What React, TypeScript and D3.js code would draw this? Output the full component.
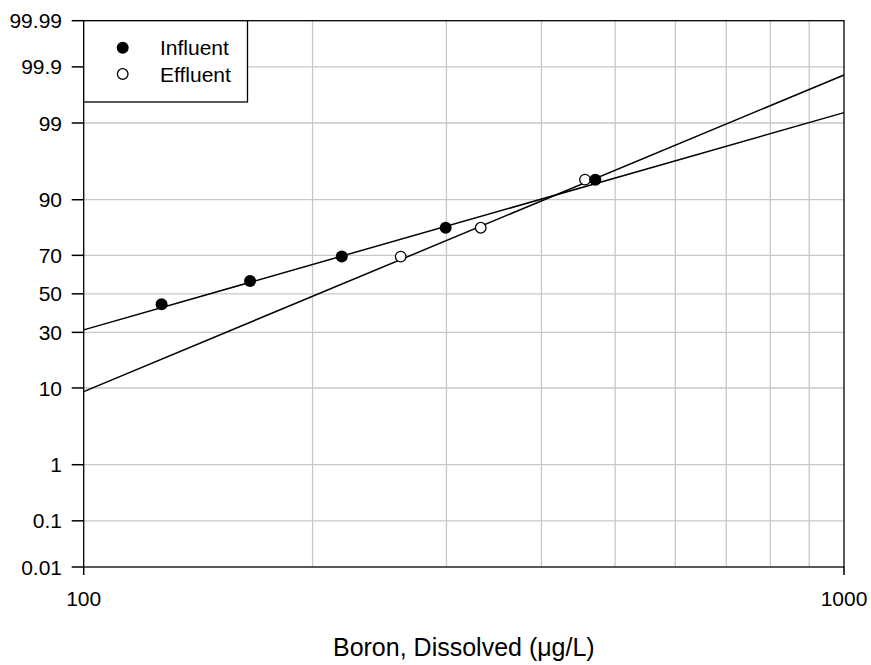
import React from "react";
import * as d3 from "d3";

// ---- data ----
const influentConc = [126.6, 165.5, 218.5, 299.3, 470.9];
const influentPct = [44.4, 57.0, 69.4, 81.6, 94.0];
const effluentConc = [261.2, 332.8, 456.4];
const effluentPct = [69.4, 81.6, 94.0];
const fitConc = [100, 1000];
const influentFitPct = [31.2, 99.32];
const effluentFitPct = [9.16, 99.856];
const yTicks = [0.01, 0.1, 1, 10, 30, 50, 70, 90, 99, 99.9, 99.99];
const yTickLabels = ["0.01", "0.1", "1", "10", "30", "50", "70", "90", "99", "99.9", "99.99"];
const xTicks = [100, 1000];
const xTickLabels = ["100", "1000"];
const xGrid = [200, 300, 400, 500, 600, 700, 800, 900];
const seriesNames = ["Influent", "Effluent"];
const xTitle = "Boron, Dissolved (\u03bcg/L)";

// inverse normal CDF (Acklam)
function probit(p: number): number {
  const a = [-3.969683028665376e1, 2.209460984245205e2, -2.759285104469687e2, 1.38357751867269e2, -3.066479806614716e1, 2.506628277459239];
  const b = [-5.447609879822406e1, 1.615858368580409e2, -1.556989798598866e2, 6.680131188771972e1, -1.328068155288572e1];
  const c = [-7.784894002430293e-3, -3.223964580411365e-1, -2.400758277161838, -2.549732539343734, 4.374664141464968, 2.938163982698783];
  const d = [7.784695709041462e-3, 3.224671290700398e-1, 2.445134137142996, 3.754408661907416];
  const pl = 0.02425;
  let q: number, r: number;
  if (p < pl) {
    q = Math.sqrt(-2 * Math.log(p));
    return (((((c[0] * q + c[1]) * q + c[2]) * q + c[3]) * q + c[4]) * q + c[5]) / ((((d[0] * q + d[1]) * q + d[2]) * q + d[3]) * q + 1);
  }
  if (p > 1 - pl) {
    q = Math.sqrt(-2 * Math.log(1 - p));
    return -(((((c[0] * q + c[1]) * q + c[2]) * q + c[3]) * q + c[4]) * q + c[5]) / ((((d[0] * q + d[1]) * q + d[2]) * q + d[3]) * q + 1);
  }
  q = p - 0.5;
  r = q * q;
  return ((((((a[0] * r + a[1]) * r + a[2]) * r + a[3]) * r + a[4]) * r + a[5]) * q) / (((((b[0] * r + b[1]) * r + b[2]) * r + b[3]) * r + b[4]) * r + 1);
}

const W = 871;
const H = 665;
const left = 83.7;
const right = 844;
const top = 20.7;
const bottom = 567;
const FONT = "'Liberation Sans', Arial, Helvetica, sans-serif";

export default function App() {
  const x = d3.scaleLog().domain([100, 1000]).range([left, right]);
  const zScale = d3.scaleLinear().domain([probit(0.0001), probit(0.9999)]).range([bottom, top]);
  const y = (pct: number) => zScale(probit(pct / 100));

  const line = d3
    .line<[number, number]>()
    .x((d) => x(d[0]))
    .y((d) => y(d[1]));

  const inflFit: [number, number][] = fitConc.map((c, i) => [c, influentFitPct[i]]);
  const effFit: [number, number][] = fitConc.map((c, i) => [c, effluentFitPct[i]]);

  return (
    <svg width={W} height={H} style={{ position: "absolute", left: 0, top: 0, background: "#fff" }} fontFamily={FONT}>
      <rect x={0} y={0} width={W} height={H} fill="#fff" />
      {/* grid */}
      {xGrid.map((v) => (
        <line key={"gx" + v} x1={x(v)} x2={x(v)} y1={top} y2={bottom} stroke="#c8c8c8" strokeWidth={1.3} />
      ))}
      {yTicks.slice(1, -1).map((v) => (
        <line key={"gy" + v} x1={left} x2={right} y1={y(v)} y2={y(v)} stroke="#c8c8c8" strokeWidth={1.3} />
      ))}
      {/* frame */}
      <rect x={left} y={top} width={right - left} height={bottom - top} fill="none" stroke="#000" strokeWidth={1.3} />
      {/* y ticks */}
      {yTicks.map((v, i) => (
        <g key={"yt" + v}>
          <line x1={left - 12} x2={left} y1={y(v)} y2={y(v)} stroke="#000" strokeWidth={1.5} />
          <text x={62} y={y(v)} dy="0.36em" textAnchor="end" fontSize={21} fill="#000">
            {yTickLabels[i]}
          </text>
        </g>
      ))}
      {/* x ticks */}
      {xTicks.map((v, i) => (
        <g key={"xt" + v}>
          <line x1={x(v)} x2={x(v)} y1={bottom} y2={bottom + 8} stroke="#000" strokeWidth={1.5} />
          <text x={x(v)} y={606} textAnchor="middle" fontSize={21} fill="#000">
            {xTickLabels[i]}
          </text>
        </g>
      ))}
      {/* fit lines */}
      <path d={line(inflFit) || ""} fill="none" stroke="#000" strokeWidth={1.5} />
      <path d={line(effFit) || ""} fill="none" stroke="#000" strokeWidth={1.5} />
      {/* points */}
      {effluentConc.map((c, i) => (
        <circle key={"e" + i} cx={x(c)} cy={y(effluentPct[i])} r={5.3} fill="#fff" stroke="#000" strokeWidth={1.3} />
      ))}
      {influentConc.map((c, i) => (
        <circle key={"i" + i} cx={x(c)} cy={y(influentPct[i])} r={6} fill="#000" />
      ))}
      {/* legend */}
      <rect x={left} y={top} width={247.5 - left} height={102 - top} fill="#fff" stroke="#000" strokeWidth={1.3} />
      <circle cx={122.7} cy={47.7} r={6} fill="#000" />
      <circle cx={122.7} cy={74} r={5.3} fill="#fff" stroke="#000" strokeWidth={1.3} />
      <text x={160} y={55} fontSize={21} fill="#000">{seriesNames[0]}</text>
      <text x={160} y={81.7} fontSize={21} fill="#000">{seriesNames[1]}</text>
      {/* axis title */}
      <text x={(left + right) / 2} y={656} textAnchor="middle" fontSize={25} fill="#000">
        {xTitle}
      </text>
    </svg>
  );
}
